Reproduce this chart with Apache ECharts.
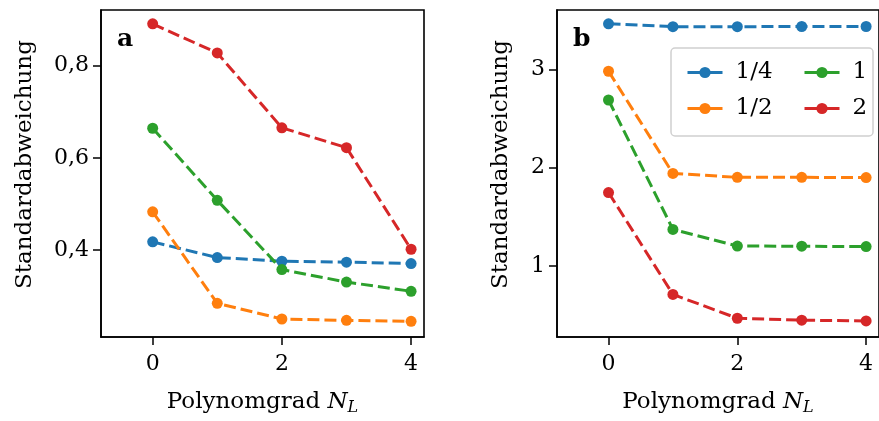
<!DOCTYPE html>
<html><head><meta charset="utf-8">
<script src="https://cdn.jsdelivr.net/npm/echarts@6/dist/echarts.min.js"></script>
<style>html,body{margin:0;padding:0;background:#fff}#c{width:879px;height:421px}</style>
</head><body><div id="c"></div>
<script>
const xVals = [0, 1, 2, 3, 4];
const seriesNames = ['1/4', '1/2', '1', '2'];
const colors = ['#1f77b4', '#ff7f0e', '#2ca02c', '#d62728'];
// panel a
const a_q = [0.418, 0.384, 0.376, 0.374, 0.371];
const a_h = [0.483, 0.285, 0.251, 0.248, 0.246];
const a_1 = [0.664, 0.508, 0.358, 0.331, 0.311];
const a_2 = [0.890, 0.827, 0.665, 0.622, 0.402];
// panel b
const b_q = [3.466, 3.437, 3.437, 3.439, 3.439];
const b_h = [2.983, 1.942, 1.902, 1.902, 1.900];
const b_1 = [2.690, 1.371, 1.202, 1.200, 1.196];
const b_2 = [1.747, 0.709, 0.466, 0.446, 0.439];
const xTicks = [0, 2, 4];
const aTicks = [0.4, 0.6, 0.8];
const bTicks = [1, 2, 3];

const FONT = 'DejaVu Serif';
const chart = echarts.init(document.getElementById('c'));
function mk(name, data, i, idx) {
  return {
    name: name, type: 'line', xAxisIndex: idx, yAxisIndex: idx,
    data: xVals.map((x, k) => [x, data[k]]),
    symbol: 'circle', symbolSize: 11, showSymbol: true,
    lineStyle: { color: colors[i], width: 3, type: [12, 5] },
    itemStyle: { color: colors[i] },
    z: 2 + i, animation: false
  };
}
const xAxisBase = (gi) => ({
  type: 'value', gridIndex: gi, min: -0.8, max: 4.2,
  name: 'Polynomgrad {i|N}{s|L}', nameLocation: 'middle', nameGap: 51,
  nameTextStyle: { fontFamily: FONT, fontSize: 23, color: '#000',
    rich: { i: { fontFamily: FONT, fontStyle: 'italic', fontSize: 23 }, s: { fontFamily: FONT, fontStyle: 'italic', fontSize: 16, padding: [12, 0, 0, 0] } } },
  axisLine: { show: true, onZero: false, lineStyle: { color: '#000', width: 1.6 } },
  axisTick: { show: true, inside: false, length: 8, lineStyle: { color: '#000', width: 1.5 }, customValues: xTicks },
  axisLabel: { color: '#000', fontFamily: FONT, fontSize: 22, margin: 16, customValues: xTicks },
  splitLine: { show: false }
});
const yAxisBase = (gi, mn, mx, ticks, fmt) => ({
  type: 'value', gridIndex: gi, min: mn, max: mx,
  name: 'Standardabweichung', nameLocation: 'middle', nameGap: gi === 0 ? 64 : 44,
  nameTextStyle: { fontFamily: FONT, fontSize: 23, color: '#000', padding: [0, 0, 0, 18] },
  axisLine: { show: true, onZero: false, lineStyle: { color: '#000', width: 1.6 } },
  axisTick: { show: true, inside: false, length: 8, lineStyle: { color: '#000', width: 1.5 }, customValues: ticks },
  axisLabel: { color: '#000', fontFamily: FONT, fontSize: 22, margin: 12, customValues: ticks, formatter: fmt },
  splitLine: { show: false }
});
const legendBase = (names, left) => ({
  data: names, orient: 'vertical', left: left, top: 56, itemWidth: 35, itemHeight: 14, itemGap: 13,
  textStyle: { fontFamily: FONT, fontSize: 23, color: '#000', padding: [0, 0, 0, 8] },
  lineStyle: { type: 'solid', width: 3 }, itemStyle: { borderWidth: 0 }, z: 20
});
const option = {
  backgroundColor: '#fff',
  animation: false,
  grid: [
    { left: 101, width: 323, top: 10, height: 329, show: true, borderColor: '#000', borderWidth: 1.6, backgroundColor: 'transparent' },
    { left: 557, width: 323, top: 10, height: 329, show: true, borderColor: '#000', borderWidth: 1.6, backgroundColor: 'transparent' }
  ],
  xAxis: [xAxisBase(0), xAxisBase(1)],
  yAxis: [
    yAxisBase(0, 0.212, 0.92, aTicks, v => v.toFixed(1).replace('.', ',')),
    yAxisBase(1, 0.275, 3.607, bTicks, v => String(v))
  ],
  title: [
    { text: 'a', left: 112, top: 22, textStyle: { fontFamily: FONT, fontWeight: 'bold', fontSize: 25, color: '#000' } },
    { text: 'b', left: 568, top: 22, textStyle: { fontFamily: FONT, fontWeight: 'bold', fontSize: 25, color: '#000' } }
  ],
  graphic: [{ type: 'rect', shape: { x: 671, y: 48, width: 202, height: 88, r: 4 },
    style: { fill: 'rgba(255,255,255,0.8)', stroke: '#d0d0d0', lineWidth: 1.5 }, z: 10 }],
  legend: [legendBase(['1/4', '1/2'], 681), legendBase(['1', '2'], 798)],
  series: [
    mk('1/4', a_q, 0, 0), mk('1/2', a_h, 1, 0), mk('1', a_1, 2, 0), mk('2', a_2, 3, 0),
    mk('1/4', b_q, 0, 1), mk('1/2', b_h, 1, 1), mk('1', b_1, 2, 1), mk('2', b_2, 3, 1)
  ]
};
chart.setOption(option);
</script></body></html>
